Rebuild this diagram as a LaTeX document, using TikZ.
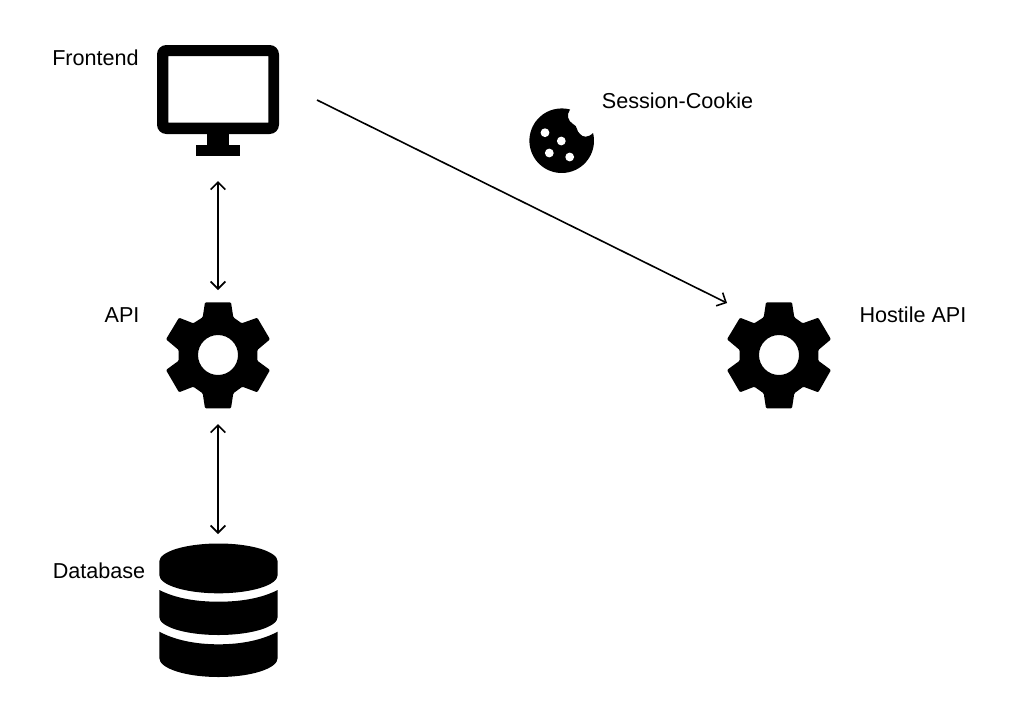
\documentclass[tikz,border=0pt]{standalone}
\usepackage{fontspec}
\setmainfont{Liberation Sans}
\usetikzlibrary{arrows.meta}
\tikzset{
  label text/.style={font=\fontsize{16.2}{19}\selectfont,inner sep=0pt,text=black},
  link/.style={line width=1.3pt,draw=black,{Straight Barb[length=5.5pt,width=11pt,line width=1.3pt]}-{Straight Barb[length=5.5pt,width=11pt,line width=1.3pt]}},
  oneway/.style={line width=1.2pt,draw=black,-{Straight Barb[length=5.5pt,width=11pt,line width=1.2pt]}},
  gear/.pic={
    \fill[black,even odd rule]
      [rounded corners=0.8pt]
      (-13,-52.7)--(13,-52.7)--(15.3,-37.7)--(23.7,-31.7)--(39.3,-37.3)--(52,-15.7)--(39.3,-5)--(39.3,5.7)--(52,15)--(39.3,37.3)--(24.3,31.7)--(15.3,38.3)--(13,53.3)--(-13,53.3)--(-15.3,38.3)--(-24.7,31.7)--(-39,37.3)--(-52,15)--(-39.3,5.7)--(-39.3,-5)--(-52,-15.7)--(-39,-37.3)--(-24.7,-31.7)--(-15.3,-37.7)--cycle
      [sharp corners]
      (0,0) circle[radius=20];
  }
}
\begin{document}
\begin{tikzpicture}[x=0.75pt,y=-0.75pt]
\useasboundingbox (0,0) rectangle (1014,714);
% monitor
\fill[black,even odd rule]
  [rounded corners=7pt] (157,45) rectangle (279,134)
  [sharp corners] (168.3,56) rectangle (268.3,122.7);
\fill[black] (207.3,130) rectangle (229.3,146);
\fill[black] (196,145) rectangle (240.3,156);
% gears
\pic at (218,355) {gear};
\pic at (779,355) {gear};
% cookie
\fill[black] (570.06,109.5)
  .. controls (566,115) and (568,121) .. (573,124)
  .. controls (578,126) and (576,131) .. (580,134)
  .. controls (583,137.5) and (588,138) .. (593.07,133)
  arc[start angle=-13.8,end angle=285,radius=32.3] -- cycle;
\fill[white] (545,132.7) circle[radius=4.4]
             (561.3,141) circle[radius=4.4]
             (549.3,153) circle[radius=4.4]
             (569.7,157) circle[radius=4.4];
% database
\fill[black] (159.3,561.5) arc[start angle=180,end angle=360,x radius=59.2,y radius=18]
  -- (277.7,575) arc[start angle=0,end angle=180,x radius=59.2,y radius=18.3] -- cycle;
\fill[black] (159.3,590) .. controls (175,598) and (195,601.7) .. (218.5,601.7)
  .. controls (242,601.7) and (262,598) .. (277.7,590)
  -- (277.7,617) arc[start angle=0,end angle=180,x radius=59.2,y radius=18] -- cycle;
\fill[black] (159.3,631.7) .. controls (175,640) and (195,644.3) .. (218.5,644.3)
  .. controls (242,644.3) and (262,640) .. (277.7,631.7)
  -- (277.7,658) arc[start angle=0,end angle=180,x radius=59.2,y radius=19] -- cycle;
% labels
\node[label text,anchor=center] (frontend) at (95.5,58) {Frontend};
\node[label text,anchor=center] (api) at (122,315) {API};
\node[label text,anchor=center] (database) at (99,571) {Database};
\node[label text,anchor=center] (hostile) at (913,315) {Hostile API};
\node[label text,anchor=center] (session) at (677.5,101) {Session-Cookie};
% connector ends
\coordinate (fe-s) at (218,181);
\coordinate (api-n) at (218,290);
\coordinate (api-s) at (218,424);
\coordinate (db-n) at (218,534);
\coordinate (fe-e) at (317,100);
\coordinate (hostile-w) at (727,303);
\draw[link] (fe-s) -- (api-n);
\draw[link] (api-s) -- (db-n);
\draw[oneway] (fe-e) -- (hostile-w);
\end{tikzpicture}
\end{document}
